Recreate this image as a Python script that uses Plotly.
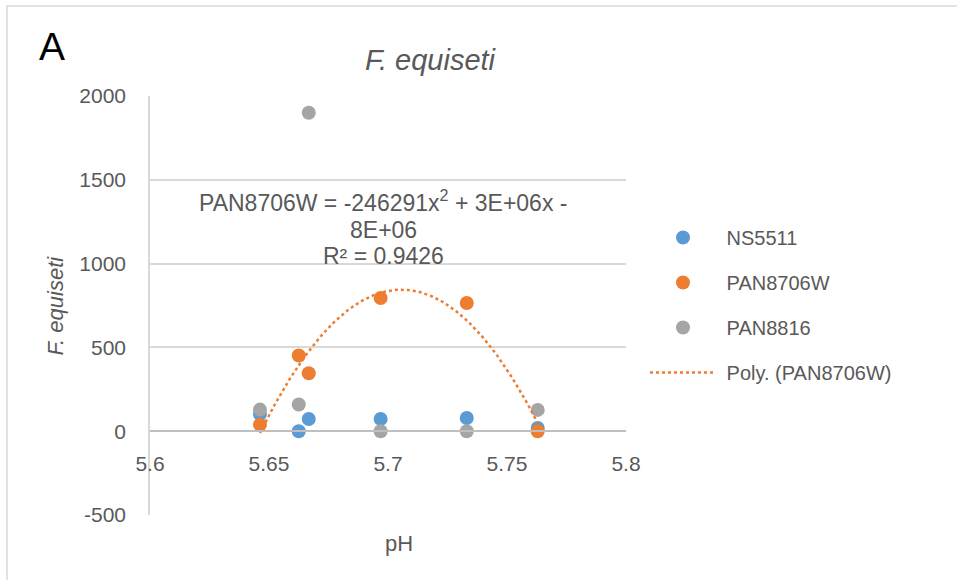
import numpy as np
import plotly.graph_objects as go

# Soil pH of each sampling site and F. equiseti counts per cultivar
ph = [5.6462, 5.6625, 5.6667, 5.6969, 5.7331, 5.7629]
ns5511 = [103, 0, 73, 73, 79, 19]
pan8706w = [39, 452, 346, 795, 765, 0]
pan8816 = [129, 159, 1900, 0, 0, 127]

x_ticks = [5.6, 5.65, 5.7, 5.75, 5.8]
x_tick_text = ["5.6", "5.65", "5.7", "5.75", "5.8"]
y_ticks = [-500, 0, 500, 1000, 1500, 2000]
y_tick_text = ["-500", "0", "500", "1000", "1500", "2000"]

BLUE, ORANGE, GREY = "#5B9BD5", "#ED7D31", "#A5A5A5"
TXT = "#595959"
FONT = "Liberation Sans"
NB = "\u00a0"

# second-order polynomial trend for PAN8706W
coef = np.polyfit(ph, pan8706w, 2)
xs = np.linspace(min(ph), max(ph), 200)
ys = np.polyval(coef, xs)

fig = go.Figure()
for name, vals, col in [("NS5511", ns5511, BLUE),
                        ("PAN8706W", pan8706w, ORANGE),
                        ("PAN8816", pan8816, GREY)]:
    fig.add_trace(go.Scatter(x=ph, y=vals, mode="markers", name=NB + name,
                             legendgroup=name,
                             marker=dict(color=col, size=14, line=dict(width=0))))
fig.add_trace(go.Scatter(x=xs, y=ys, mode="lines", name=NB + "Poly. (PAN8706W)",
                         legendgroup="poly",
                         line=dict(color=ORANGE, width=2.5, dash="dot")))

W, H = 957, 580
L, R, T, B = 150, 626, 96, 515


def px(xp):
    return (xp - L) / (R - L)


def py(yp):
    return (B - yp) / (B - T)


fig.update_layout(
    width=W, height=H,
    margin=dict(l=L, r=W - R, t=T, b=H - B, pad=0),
    paper_bgcolor="white", plot_bgcolor="white",
    font=dict(family=FONT, size=21, color=TXT),
    showlegend=True,
    legend=dict(x=px(645), y=py(218), xanchor="left", yanchor="top",
                font=dict(size=20, color=TXT), itemwidth=66,
                tracegroupgap=16, bgcolor="rgba(0,0,0,0)"),
    xaxis=dict(range=[5.6, 5.8], tickvals=x_ticks, ticktext=x_tick_text,
               showgrid=False, zeroline=False, showline=True,
               linecolor="#BFBFBF", linewidth=1.5,
               anchor="free", position=500 / 2500,
               ticks="outside", ticklen=14, tickcolor="rgba(0,0,0,0)",
               tickfont=dict(size=21, color=TXT)),
    yaxis=dict(range=[-500, 2000], tickvals=y_ticks, ticktext=y_tick_text,
               domain=[0, 1],
               showgrid=True, gridcolor="#D9D9D9", gridwidth=1.5,
               zeroline=False, showline=True, linecolor="#D9D9D9",
               linewidth=1.5, ticks="outside", ticklen=18,
               tickcolor="rgba(0,0,0,0)",
               tickfont=dict(size=21, color=TXT)),
)

annotations = [
    dict(text="A", x=px(52), y=py(47), font=dict(size=39, color="black")),
    dict(text="<i>F. equiseti</i>", x=px(431), y=py(60),
         font=dict(size=29, color=TXT)),
    dict(text="<i>F. equiseti</i>", x=px(55), y=0.5, textangle=-90,
         font=dict(size=22, color=TXT)),
    dict(text="pH", x=px(399), y=py(543), font=dict(size=22, color=TXT)),
    # trendline equation, one line per annotation
    dict(text="PAN8706W = -246291x<sup>2</sup> + 3E+06x -",
         x=px(383), y=py(201), font=dict(size=23, color=TXT)),
    dict(text="8E+06", x=px(383), y=py(230), font=dict(size=23, color=TXT)),
    dict(text="R² = 0.9426", x=px(383), y=py(256),
         font=dict(size=23, color=TXT)),
]
for a in annotations:
    a.update(xref="paper", yref="paper", showarrow=False,
             xanchor="center", yanchor="middle")
    fig.add_annotation(**a)

# outer chart frame
fig.add_shape(type="rect", xref="paper", yref="paper",
              x0=px(7), x1=px(W + 10), y0=py(H + 10), y1=py(6),
              line=dict(color="#D9D9D9", width=1.5), layer="below")

fig.write_html("out.html")
